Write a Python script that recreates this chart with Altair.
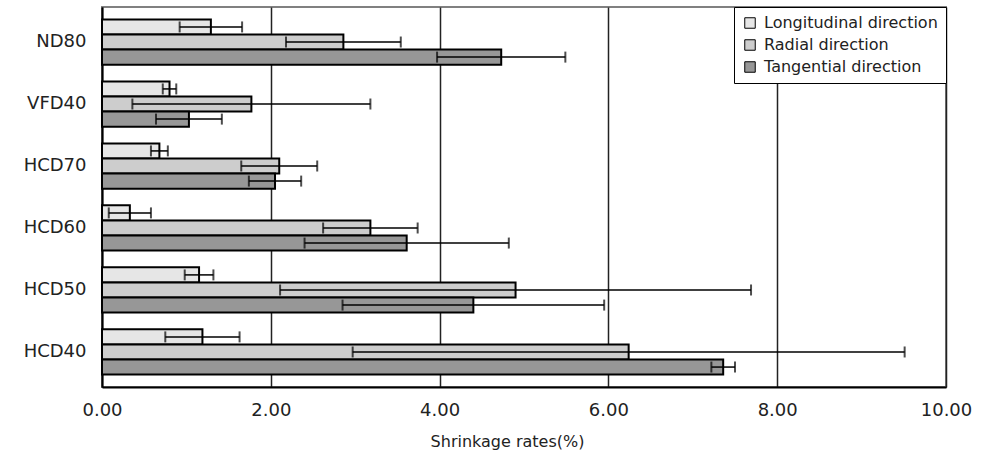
import altair as alt
import pandas as pd

categories = ["ND80", "VFD40", "HCD70", "HCD60", "HCD50", "HCD40"]
directions = ["Longitudinal direction", "Radial direction", "Tangential direction"]
long_mean = [1.29, 0.80, 0.68, 0.33, 1.15, 1.19]
long_sd = [0.37, 0.08, 0.10, 0.25, 0.17, 0.44]
rad_mean = [2.86, 1.77, 2.10, 3.18, 4.90, 6.24]
rad_sd = [0.68, 1.41, 0.45, 0.56, 2.79, 3.27]
tan_mean = [4.73, 1.03, 2.05, 3.61, 4.40, 7.36]
tan_sd = [0.76, 0.39, 0.31, 1.21, 1.55, 0.14]
fills = ["#e6e6e6", "#cdcdcd", "#979797"]
x_ticks = [0, 2, 4, 6, 8, 10]

rows = []
for d, ms, ss in zip(directions, [long_mean, rad_mean, tan_mean], [long_sd, rad_sd, tan_sd]):
    for c, m, s in zip(categories, ms, ss):
        rows.append({"cat": c, "dir": d, "mean": m, "sd": s})
df = pd.DataFrame(rows)

base = alt.Chart(df).transform_calculate(
    lo="datum.mean - datum.sd", hi="datum.mean + datum.sd"
)

y_enc = alt.Y(
    "cat:N",
    sort=categories,
    scale=alt.Scale(paddingInner=0.27, paddingOuter=0.2),
    axis=alt.Axis(
        title=None, ticks=False, domain=True, domainColor="black", domainWidth=2,
        labelFont="DejaVu Sans", labelFontSize=18, labelColor="#222",
        labelPadding=16, grid=False,
    ),
)
yoff = alt.YOffset("dir:N", sort=directions, scale=alt.Scale(paddingInner=0, paddingOuter=0))

x_enc = alt.X(
    "mean:Q",
    scale=alt.Scale(domain=[0, 10], nice=False),
    axis=alt.Axis(
        values=x_ticks, format=".2f", title="Shrinkage rates(%)", ticks=False,
        domain=True, domainColor="black", domainWidth=2,
        grid=True, gridColor="#222", gridWidth=1.5,
        labelFont="DejaVu Sans", labelFontSize=18, labelColor="#222", labelPadding=14,
        labelFlush=False,
        titleFont="DejaVu Sans", titleFontSize=16, titleFontWeight="normal",
        titleColor="#222", titlePadding=14, titleX=405, titleAlign="center",
    ),
)

bars = base.mark_bar(stroke="black", strokeWidth=2).encode(
    x=x_enc,
    y=y_enc,
    yOffset=yoff,
    color=alt.Color(
        "dir:N",
        sort=directions,
        scale=alt.Scale(domain=directions, range=fills),
        legend=alt.Legend(
            title=None, orient="top-right", offset=0, fillColor="white",
            strokeColor="black", padding=8, rowPadding=6,
            symbolType="square", symbolSize=110, symbolStrokeColor="black",
            symbolStrokeWidth=1, labelFont="DejaVu Sans", labelFontSize=16,
            labelColor="#222", labelLimit=0, symbolOffset=0, labelOffset=6,
        ),
    ),
)

err = base.mark_rule(color="black", strokeWidth=1.5).encode(
    x="lo:Q", x2="hi:Q",
    y=alt.Y("cat:N", sort=categories),
    yOffset=alt.YOffset("dir:N", sort=directions),
)
cap_lo = base.mark_tick(color="black", thickness=2, size=11, orient="vertical").encode(
    x="lo:Q",
    y=alt.Y("cat:N", sort=categories),
    yOffset=alt.YOffset("dir:N", sort=directions),
)
cap_hi = base.mark_tick(color="black", thickness=2, size=11, orient="vertical").encode(
    x="hi:Q",
    y=alt.Y("cat:N", sort=categories),
    yOffset=alt.YOffset("dir:N", sort=directions),
)

chart = (
    alt.layer(bars, err, cap_lo, cap_hi)
    .properties(
        width=844, height=380,
        autosize=alt.AutoSizeParams(type="none"),
        padding={"left": 102, "top": 7, "right": 40, "bottom": 77},
        background="white",
    )
    .configure_view(stroke="#808080", strokeWidth=2)
)

chart.save("out.html", embed_options={"renderer": "svg", "actions": False})
